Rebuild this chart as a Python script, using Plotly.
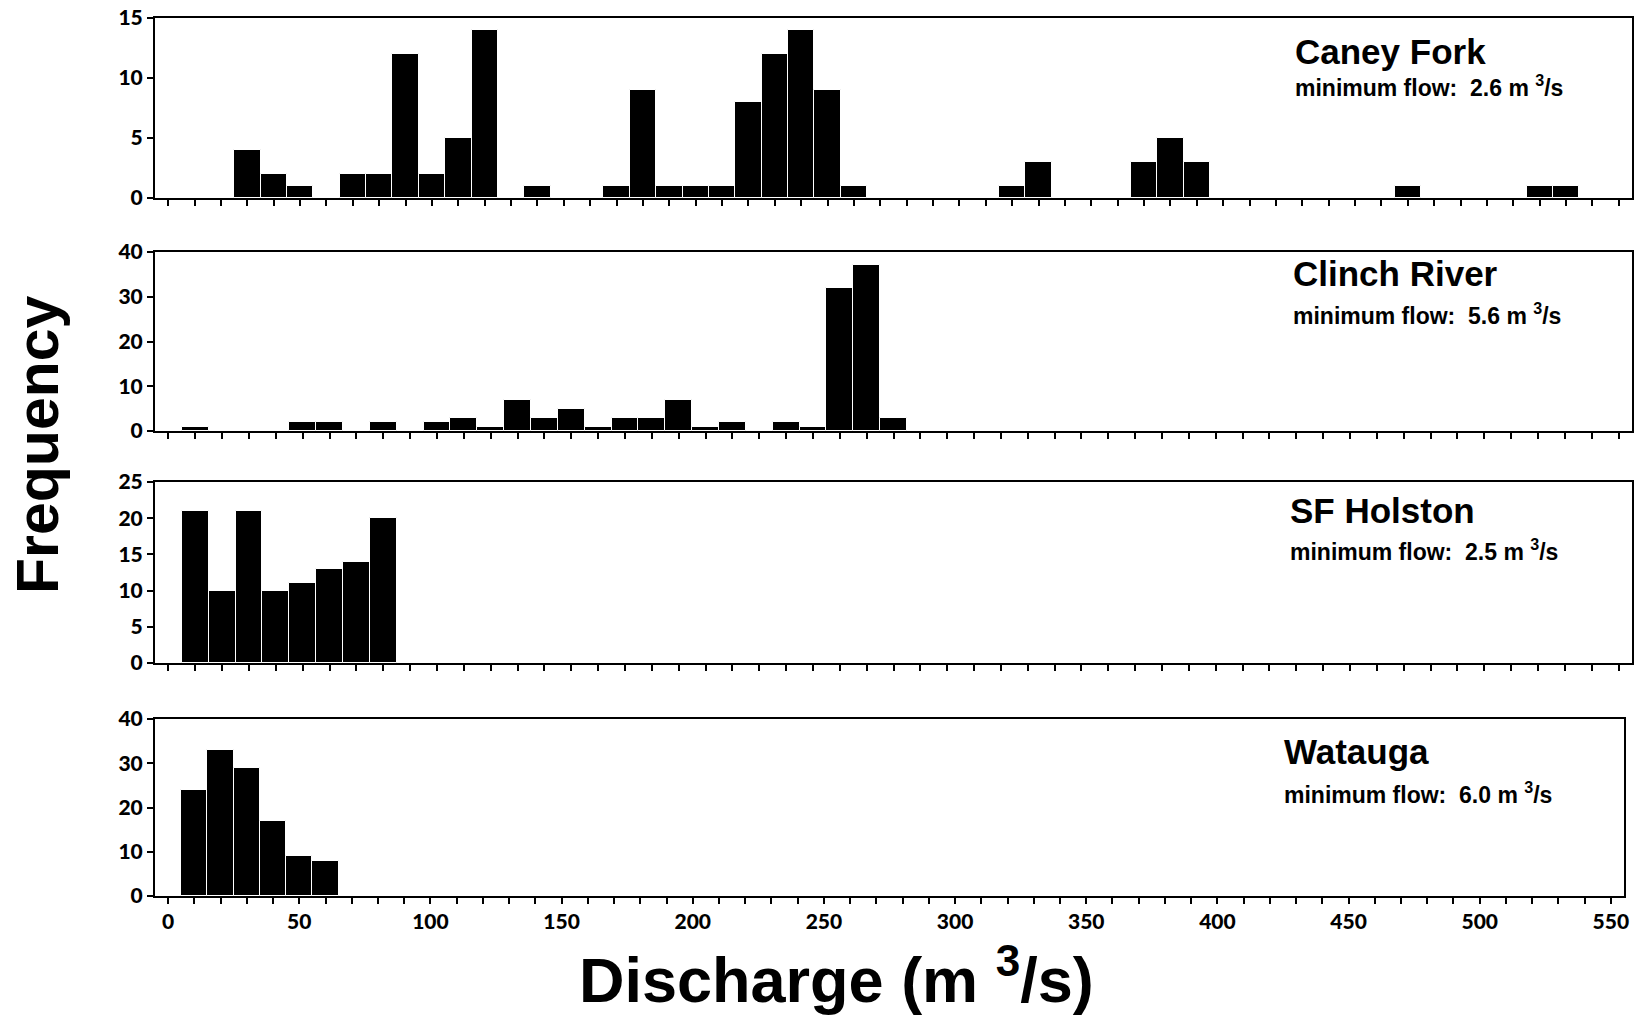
import plotly.graph_objects as go

# ---------------- data ----------------
caney_bins = [30, 40, 50, 70, 80, 90, 100, 110, 120, 140, 170, 180, 190, 200, 210, 220,
              230, 240, 250, 260, 320, 330, 370, 380, 390, 470, 520, 530]
caney_counts = [4, 2, 1, 2, 2, 12, 2, 5, 14, 1, 1, 9, 1, 1, 1, 8,
                12, 14, 9, 1, 1, 3, 3, 5, 3, 1, 1, 1]

clinch_bins = [10, 50, 60, 80, 100, 110, 120, 130, 140, 150, 160, 170, 180, 190, 200,
               210, 230, 240, 250, 260, 270]
clinch_counts = [1, 2, 2, 2, 2, 3, 1, 7, 3, 5, 1, 3, 3, 7, 1,
                 2, 2, 1, 32, 37, 3]

holston_bins = [10, 20, 30, 40, 50, 60, 70, 80]
holston_counts = [21, 10, 21, 10, 11, 13, 14, 20]

watauga_bins = [10, 20, 30, 40, 50, 60]
watauga_counts = [24, 33, 29, 17, 9, 8]

panel_names = ["Caney Fork", "Clinch River", "SF Holston", "Watauga"]
min_flows = ["2.6", "5.6", "2.5", "6.0"]
y_maxes = [15, 40, 25, 40]
y_dticks = [5, 10, 5, 10]
x_maxes = [555, 545, 545, 555]
x_tick_vals = [0, 50, 100, 150, 200, 250, 300, 350, 400, 450, 500, 550]

series = [(caney_bins, caney_counts), (clinch_bins, clinch_counts),
          (holston_bins, holston_counts), (watauga_bins, watauga_counts)]

# ---------------- layout geometry (pixels) ----------------
W, H = 1646, 1019
L, R, T, B = 155, 14, 18, 123
plot_h = H - T - B
plot_w = W - L - R

def py(px):
    return 1 - (px - T) / plot_h

def px_x(px):
    return (px - L) / plot_w

panel_px = [(18, 198), (252, 431), (482, 663), (719, 896)]
panel_right_px = [1632, 1632, 1632, 1624]
title_px = [(1293, 52, 86), (1291, 274, 314), (1288, 510, 550), (1282, 751, 793)]

fig = go.Figure()
FONT_TICK = dict(family="Lato", size=21, color="black", weight=900)

for i, ((bx, cy), (top, bot)) in enumerate(zip(series, panel_px)):
    n = i + 1
    xa = "x" if n == 1 else f"x{n}"
    ya = "y" if n == 1 else f"y{n}"
    fig.add_trace(go.Bar(
        x=bx, y=cy, width=10, xaxis=xa, yaxis=ya,
        marker=dict(color="black", line=dict(color="white", width=1)),
        showlegend=False, hoverinfo="x+y",
    ))
    xkey = "xaxis" if n == 1 else f"xaxis{n}"
    ykey = "yaxis" if n == 1 else f"yaxis{n}"
    fig.update_layout({
        xkey: dict(
            domain=[0, px_x(panel_right_px[i])], anchor=ya, range=[-5, x_maxes[i]],
            tickvals=x_tick_vals, ticks="outside", ticklen=6, tickwidth=2,
            tickcolor="black", showticklabels=(n == 4), tickfont=FONT_TICK,
            minor=dict(dtick=10, tick0=0, ticks="outside", ticklen=6, tickwidth=2, tickcolor="black"),
            showline=True, linecolor="black", linewidth=2, mirror=True,
            showgrid=False, zeroline=False, fixedrange=True, automargin=False,
        ),
        ykey: dict(
            domain=[py(bot), py(top)], anchor=xa, range=[0, y_maxes[i]],
            dtick=y_dticks[i], tick0=0, ticks="outside", ticklen=6, tickwidth=2,
            tickcolor="black", tickfont=FONT_TICK,
            showline=True, linecolor="black", linewidth=2, mirror=True,
            showgrid=False, zeroline=False, fixedrange=True, automargin=False,
        ),
    })
    tx, ty1, ty2 = title_px[i]
    fig.add_annotation(
        x=px_x(tx), y=py(ty1), xref="paper", yref="paper", xanchor="left", yanchor="middle",
        text=panel_names[i], showarrow=False,
        font=dict(family="Liberation Sans", size=35, color="black", weight="bold"),
    )
    fig.add_annotation(
        x=px_x(tx), y=py(ty2), xref="paper", yref="paper", xanchor="left", yanchor="middle",
        text=f"minimum flow:  {min_flows[i]} m <sup>3</sup>/s", showarrow=False,
        font=dict(family="Liberation Sans", size=23, color="black", weight="bold"),
    )

fig.add_annotation(
    x=px_x(836), y=py(976), xref="paper", yref="paper", xanchor="center", yanchor="middle",
    text="Discharge (m <sup>3</sup>/s)", showarrow=False,
    font=dict(family="Liberation Sans", size=63, color="black", weight="bold"),
)
fig.add_annotation(
    x=px_x(38), y=py(445), xref="paper", yref="paper", xanchor="center", yanchor="middle",
    text="Frequency", showarrow=False, textangle=-90,
    font=dict(family="Liberation Sans", size=59, color="black", weight="bold"),
)

fig.update_layout(
    width=W, height=H, margin=dict(l=L, r=R, t=T, b=B, autoexpand=False),
    paper_bgcolor="white", plot_bgcolor="white", bargap=0,
)

fig.write_html(
    "out.html",
    config={"displayModeBar": False},
    post_script="document.body.style.margin='0';document.body.style.overflow='hidden';",
)
